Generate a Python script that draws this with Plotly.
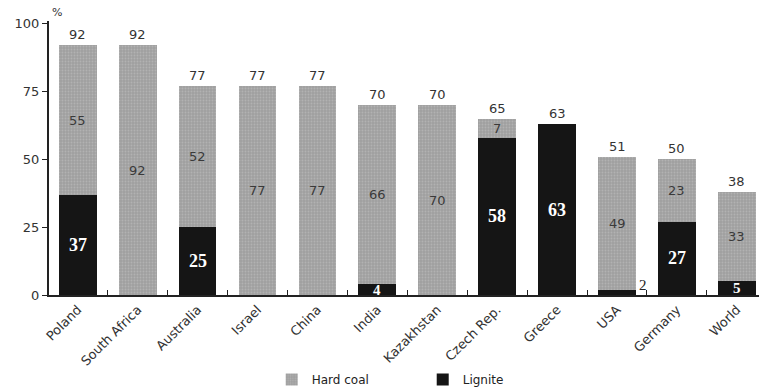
import plotly.graph_objects as go

countries = ["Poland", "South Africa", "Australia", "Israel", "China", "India",
             "Kazakhstan", "Czech Rep.", "Greece", "USA", "Germany", "World"]
hard_coal = [55, 92, 52, 77, 77, 66, 70, 7, 0, 49, 23, 33]
lignite = [37, 0, 25, 0, 0, 4, 0, 58, 63, 2, 27, 5]
totals = [92, 92, 77, 77, 77, 70, 70, 65, 63, 51, 50, 38]
y_ticks = [0, 25, 50, 75, 100]

SANS = "Century Gothic, Futura, DejaVu Sans, sans-serif"
SERIF = "Liberation Serif, Times New Roman, serif"

fig = go.Figure()
fig.add_trace(go.Bar(
    x=countries, y=lignite, name="Lignite", width=0.63,
    marker=dict(color="#151515", line=dict(width=0)),
))
fig.add_trace(go.Bar(
    x=countries, y=hard_coal, name="Hard coal", width=0.63,
    marker=dict(color="#a6a6a6", line=dict(width=0),
                pattern=dict(shape=".", fgcolor="#c4c4c4", bgcolor="#a0a0a0",
                             size=3, solidity=0.3)),
))

ann = []
for c, h, l, t in zip(countries, hard_coal, lignite, totals):
    ann.append(dict(x=c, y=t, text=str(t), showarrow=False, yanchor="bottom", yshift=1,
                    font=dict(family=SANS, size=13, color="#333")))
    if h > 0:
        ann.append(dict(x=c, y=l + h / 2, text=str(h), showarrow=False,
                        font=dict(family=SANS, size=13, color="#3a3a3a")))
    if l > 0:
        if l < 3:
            ann.append(dict(x=c, y=0, text=str(l), showarrow=False, xanchor="left",
                            yanchor="bottom", xshift=20,
                            font=dict(family=SERIF, size=15, color="#222")))
        else:
            ann.append(dict(x=c, y=l / 2, text="<b>%d</b>" % l, showarrow=False,
                            font=dict(family=SERIF, size=18 if l > 10 else 15, color="white")))
ann.append(dict(xref="paper", yref="paper", x=0.0, y=1.0, xanchor="left", yanchor="bottom",
                xshift=1, yshift=0, text="%", showarrow=False,
                font=dict(family=SANS, size=11, color="#333")))

fig.update_layout(
    barmode="stack",
    width=759, height=388,
    margin=dict(l=49, r=0, t=21, b=93, autoexpand=False),
    plot_bgcolor="white", paper_bgcolor="white",
    annotations=ann,
    showlegend=True,
    legend=dict(orientation="h", x=0.358, xanchor="left", y=0.022, yanchor="middle",
                yref="container", xref="container", bgcolor="rgba(0,0,0,0)",
                traceorder="reversed", font=dict(family=SANS, size=12, color="#222"),
                entrywidth=106, entrywidthmode="pixels", itemwidth=30),
    xaxis=dict(range=[-0.48, 11.37], tickangle=-45, showline=True, linecolor="#222",
               linewidth=2, ticks="inside", tickson="boundaries", ticklen=5,
               tickcolor="#222", tickfont=dict(family=SANS, size=13, color="#333"),
               showgrid=False, automargin=False),
    yaxis=dict(range=[0, 101], tickvals=y_ticks, showline=True, linecolor="#222",
               linewidth=2, ticks="outside", ticklen=5, tickcolor="#222",
               tickfont=dict(family=SANS, size=13, color="#333"), showgrid=False,
               zeroline=False, automargin=False),
)

fig.write_html("out.html", config={"displayModeBar": False},
               post_script="document.body.style.margin='0';")
